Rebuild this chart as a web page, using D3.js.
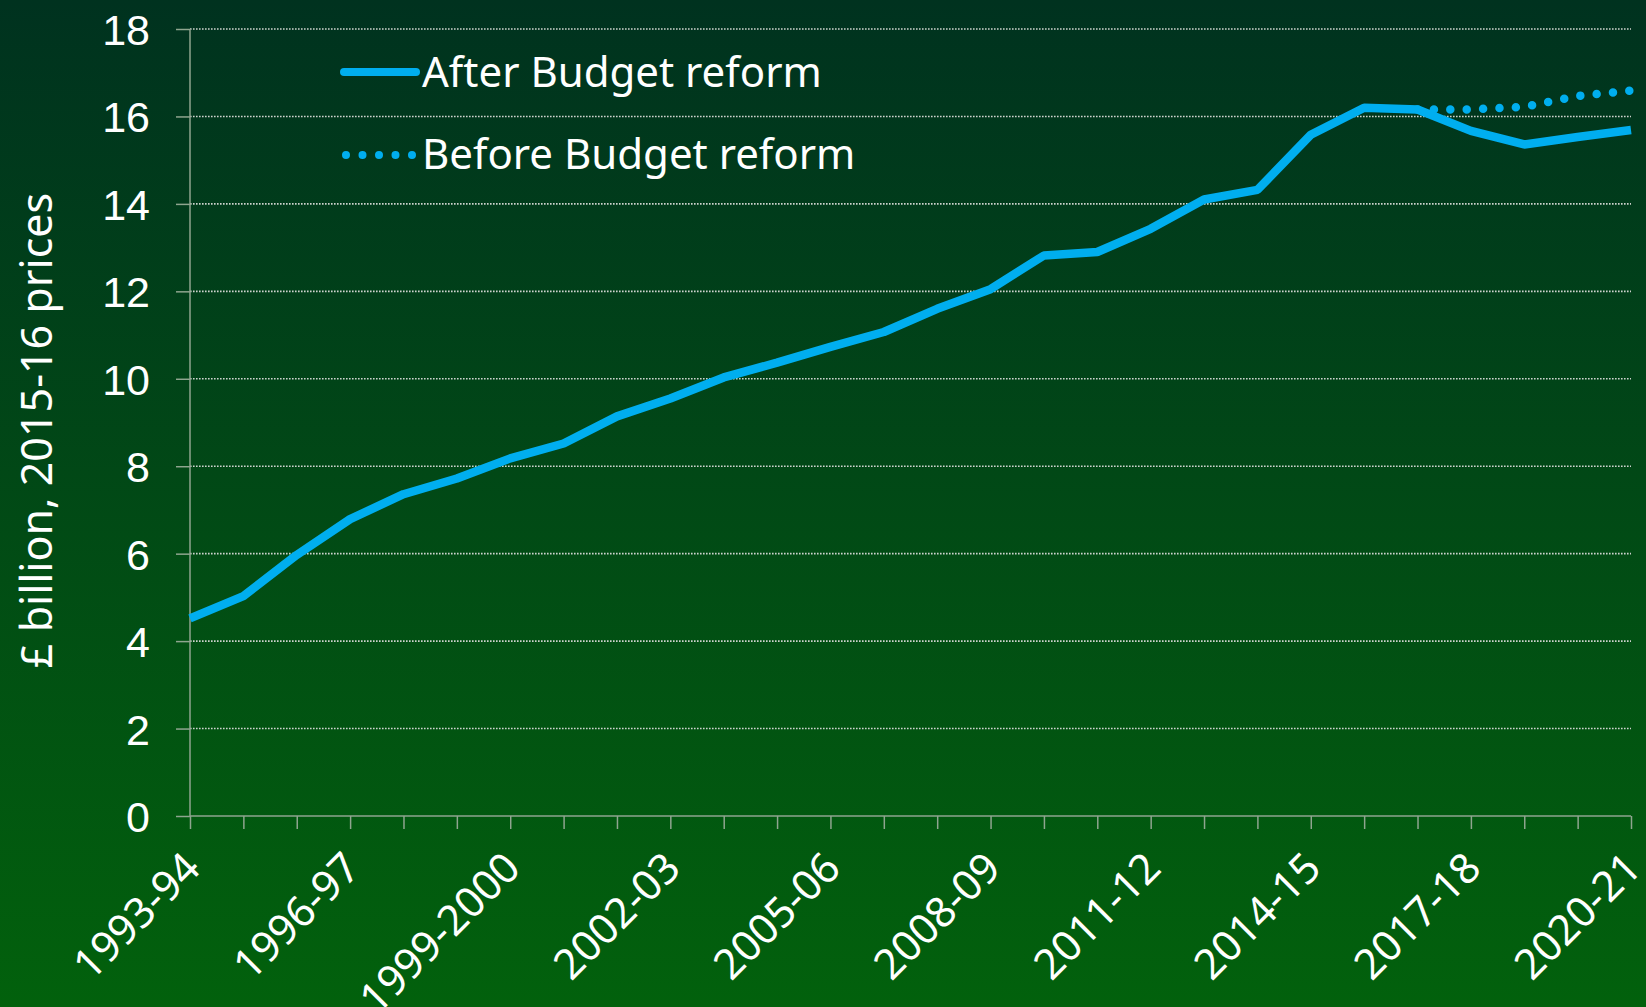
<!DOCTYPE html>
<html>
<head>
<meta charset="utf-8">
<script src="https://cdn.jsdelivr.net/npm/d3@7"></script>
<style>
  html, body { margin: 0; padding: 0; background: #013a1c; }
  svg { display: block; font-family: "Noto Sans", sans-serif; }
</style>
</head>
<body>
<div id="chart"></div>
<script>
// financial years along the x axis
var years = ["1993-94","1994-95","1995-96","1996-97","1997-98","1998-99","1999-2000",
  "2000-01","2001-02","2002-03","2003-04","2004-05","2005-06","2006-07","2007-08",
  "2008-09","2009-10","2010-11","2011-12","2012-13","2013-14","2014-15","2015-16",
  "2016-17","2017-18","2018-19","2019-20","2020-21"];

// £ billion, 2015-16 prices
var afterReform = [4.52,5.03,5.97,6.79,7.36,7.72,8.18,8.52,9.14,9.55,10.03,10.37,10.73,11.07,
  11.60,12.05,12.82,12.90,13.43,14.10,14.32,15.58,16.20,16.16,15.67,15.36,15.53,15.69];

// forecast before the reform, from 2016-17 on
var beforeYears = ["2016-17","2017-18","2018-19","2019-20","2020-21"];
var beforeReform = [16.16,16.16,16.22,16.47,16.59];

var yTicks = [0,2,4,6,8,10,12,14,16,18];
var labelYears = years.filter(function(d, i){ return i % 3 == 0; });

var seriesNames = ["After Budget reform", "Before Budget reform"];

var width = 1646, height = 1007;
var margin = {top: 29, right: 15, bottom: 191, left: 190};
var blue = "#00aeef";

var svg = d3.select("#chart").append("svg")
  .attr("width", width).attr("height", height);

// background gradient, dark green at top to brighter green at bottom
var grad = svg.append("defs").append("linearGradient")
  .attr("id", "bg").attr("x1", 0).attr("y1", 0).attr("x2", 0).attr("y2", 1);
grad.append("stop").attr("offset", "0%").attr("stop-color", "#00321f");
grad.append("stop").attr("offset", "100%").attr("stop-color", "#02610c");
svg.append("rect").attr("width", width).attr("height", height).attr("fill", "url(#bg)");

var x = d3.scalePoint().domain(years).range([margin.left, width - margin.right]);
var y = d3.scaleLinear().domain([0, 18]).range([height - margin.bottom, margin.top]);

// dotted gridlines
svg.append("g")
  .selectAll("line")
  .data(yTicks.filter(function(d){ return d > 0; }))
  .join("line")
    .attr("x1", margin.left).attr("x2", width - margin.right)
    .attr("y1", d => y(d)).attr("y2", d => y(d))
    .attr("stroke", "#cdd2cd")
    .attr("stroke-width", 1.6)
    .attr("stroke-dasharray", "1.6,1.4");

// y axis
var yAxis = svg.append("g")
  .attr("transform", "translate(" + margin.left + ",0)")
  .call(d3.axisLeft(y).tickValues(yTicks).tickSize(14).tickPadding(26));
yAxis.selectAll("line, path").attr("stroke", "#8fa58f").attr("stroke-width", 1.5);
yAxis.select(".domain").attr("d", "M0," + y(0) + "V" + y(18));
yAxis.selectAll("text")
  .attr("fill", "#fff")
  .style("font-size", "43px")
  .attr("dy", "0.36em");

// x axis
var xAxis = svg.append("g")
  .attr("transform", "translate(0," + y(0) + ")")
  .call(d3.axisBottom(x).tickSize(13).tickFormat(""));
xAxis.selectAll("line, path").attr("stroke", "#8fa58f").attr("stroke-width", 1.5);
xAxis.select(".domain").attr("d", "M" + x(years[0]) + ",0H" + x(years[years.length - 1]));

svg.append("g")
  .selectAll("text")
  .data(labelYears)
  .join("text")
    .attr("transform", d => "translate(" + (x(d) - 9) + "," + (y(0) + 33) + ") rotate(-45)")
    .attr("text-anchor", "end")
    .attr("dy", "0.72em")
    .attr("fill", "#fff")
    .style("font-size", "42px")
    .text(d => d);

// y axis title
svg.append("text")
  .attr("transform", "translate(52," + ((y(0) + y(18)) / 2 + 8) + ") rotate(-90)")
  .attr("text-anchor", "middle")
  .attr("fill", "#fff")
  .style("font-size", "43px")
  .text("£ billion, 2015-16 prices");

// lines
var line = d3.line().x(d => x(d[0])).y(d => y(d[1]));

svg.append("path")
  .datum(beforeYears.map((d, i) => [d, beforeReform[i]]))
  .attr("d", line)
  .attr("fill", "none")
  .attr("stroke", blue)
  .attr("stroke-width", 8.5)
  .attr("stroke-linecap", "round")
  .attr("stroke-dasharray", "0,16.4");

svg.append("path")
  .datum(years.map((d, i) => [d, afterReform[i]]))
  .attr("d", line)
  .attr("fill", "none")
  .attr("stroke", blue)
  .attr("stroke-width", 8.5)
  .attr("stroke-linejoin", "bevel");

// legend
var legend = svg.append("g");
legend.append("line")
  .attr("x1", 344).attr("x2", 416).attr("y1", 72).attr("y2", 72)
  .attr("stroke", blue).attr("stroke-width", 8).attr("stroke-linecap", "round");
legend.append("line")
  .attr("x1", 346).attr("x2", 412.2).attr("y1", 155).attr("y2", 155)
  .attr("stroke", blue).attr("stroke-width", 8).attr("stroke-linecap", "round")
  .attr("stroke-dasharray", "0,16.5");
legend.selectAll("text")
  .data(seriesNames)
  .join("text")
    .attr("x", 422)
    .attr("y", (d, i) => 87 + i * 82)
    .attr("fill", "#fff")
    .style("font-size", "42px")
    .text(d => d);
</script>
</body>
</html>
